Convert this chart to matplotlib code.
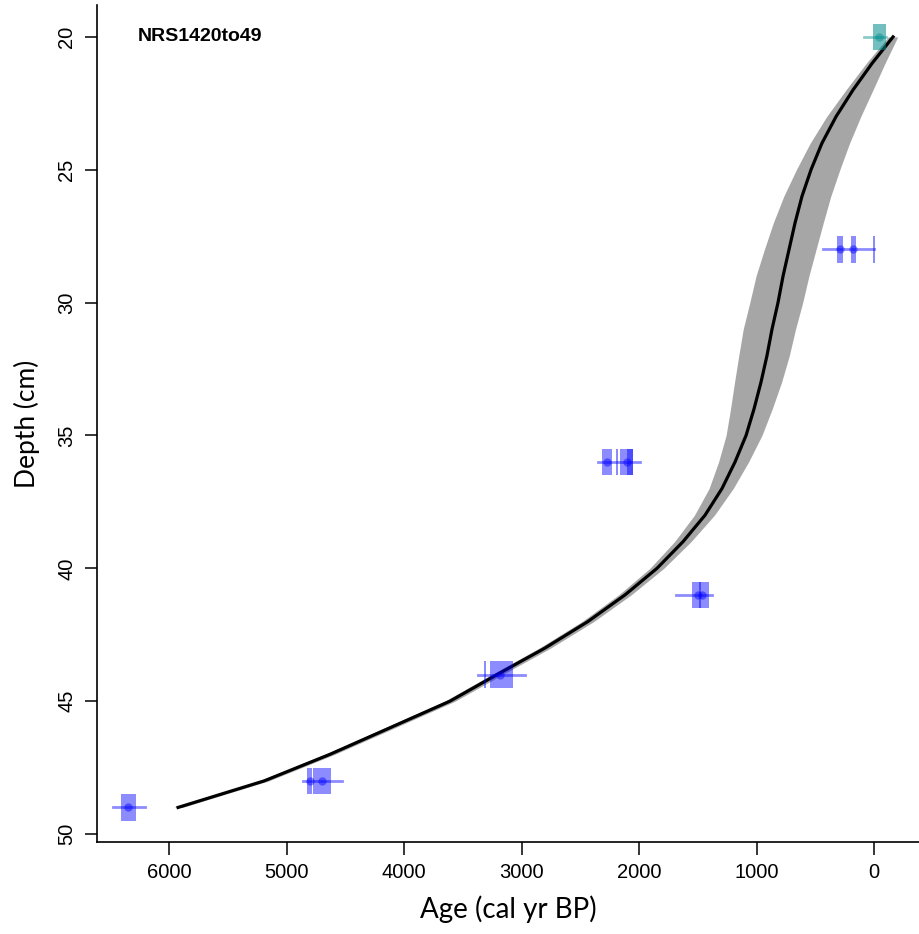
import numpy as np
import matplotlib.pyplot as plt
from matplotlib.patches import Rectangle

# age-depth model
model_depth = [20, 21, 22, 23, 24, 25, 26, 27, 28, 29, 30, 31, 32, 33, 34,
               35, 36, 37, 38, 39, 40, 41, 42, 43, 44, 45, 46, 47, 48, 49]
model_age = [-162, 17, 179, 323, 443, 536, 613, 672, 723, 774, 817, 868, 911, 962, 1021,
             1089, 1183, 1294, 1438, 1626, 1847, 2119, 2434, 2800, 3209, 3609, 4119, 4630, 5190, 5923]
model_young = [40, 110, 170, 210, 235, 245, 245, 240, 230, 220, 210, 200, 190, 175, 155,
               135, 115, 95, 80, 68, 58, 52, 50, 48, 46, 44, 42, 40, 38, 35]
model_old = [40, 50, 60, 80, 100, 125, 155, 185, 210, 230, 240, 245, 240, 225, 200,
             170, 140, 110, 90, 72, 60, 54, 50, 48, 46, 45, 43, 40, 38, 35]

# dated samples: depth, probability blocks (min, max age), range line
date_depth = [20, 28, 28, 28, 36, 36, 36, 36, 41, 41, 44, 44, 48, 48, 49]
block_min = [-102, 265, 155, -8, 2230, 2051, 2051, 2180, 1404, 1470, 3072, 3300, 4783, 4621, 6281]
block_max = [9, 315, 195, 8, 2315, 2162, 2102, 2194, 1549, 1490, 3268, 3320, 4826, 4774, 6409]
block_col = ['teal'] + ['blue'] * 14

range_depth = [20, 28, 36, 41, 44, 48, 49]
range_min = [-100, 0, 1991, 1379, 2970, 4528, 6204]
range_max = [85, 434, 2349, 1685, 3370, 4860, 6477]
range_col = ['teal', 'blue', 'blue', 'blue', 'blue', 'blue', 'blue']

dot_depth = [20, 28, 28, 36, 36, 41, 41, 44, 48, 48, 49]
dot_age = [-43, 290, 175, 2272, 2106, 1500, 1460, 3180, 4800, 4700, 6345]
dot_col = ['teal'] + ['blue'] * 10

colours = {'blue': '#0000ff', 'teal': '#008b8b'}

fig = plt.figure(figsize=(9.19, 9.34), dpi=100)
ax = fig.add_axes([97 / 919, 1 - 842 / 934, 1 - 97 / 919, (842 - 5) / 934])

young = np.array(model_age) - np.array(model_young)
old = np.array(model_age) + np.array(model_old)
ax.fill_betweenx(model_depth, young, old, color='#a6a6a6', lw=0, zorder=1)
ax.plot(model_age, model_depth, color='black', lw=2.3, zorder=2, solid_joinstyle='round')

for d, lo, hi, c in zip(date_depth, block_min, block_max, block_col):
    ax.add_patch(Rectangle((lo, d - 0.5), hi - lo, 1.0, color=colours[c],
                           alpha=0.45 if c == 'blue' else 0.55, lw=0, zorder=3))
for d, lo, hi, c in zip(range_depth, range_min, range_max, range_col):
    ax.plot([lo, hi], [d, d], color=colours[c], alpha=0.45, lw=2, zorder=4)
for d, a, c in zip(dot_depth, dot_age, dot_col):
    ax.plot(a, d, 'o', color=colours[c], alpha=0.45, ms=6, mew=0, zorder=5)

ax.set_xlim(6613, -383)
ax.set_ylim(50.3, 18.8)
ax.set_xticks([6000, 5000, 4000, 3000, 2000, 1000, 0])
ax.set_yticks([20, 25, 30, 35, 40, 45, 50])

for s in ['top', 'right']:
    ax.spines[s].set_visible(False)
for s in ['left', 'bottom']:
    ax.spines[s].set_linewidth(1.2)
ax.tick_params(direction='out', length=9, width=1.1, labelsize=14.5, pad=6)
tick_font = ['Liberation Sans', 'DejaVu Sans']
for lab in ax.get_xticklabels():
    lab.set_family(tick_font)
for lab in ax.get_yticklabels():
    lab.set_family(tick_font)
    lab.set_rotation(90)
    lab.set_va('center')

ax.set_xlabel('Age (cal yr BP)', fontsize=20, family=['Lato', 'DejaVu Sans'], labelpad=10)
ax.set_ylabel('Depth (cm)', fontsize=19, family=['Lato', 'DejaVu Sans'], labelpad=12)
ax.text(6264, 20, 'NRS1420to49', fontsize=14, fontweight='bold',
        family=['Liberation Sans', 'DejaVu Sans'], va='center', ha='left')

fig.savefig('out.png', dpi=100)
